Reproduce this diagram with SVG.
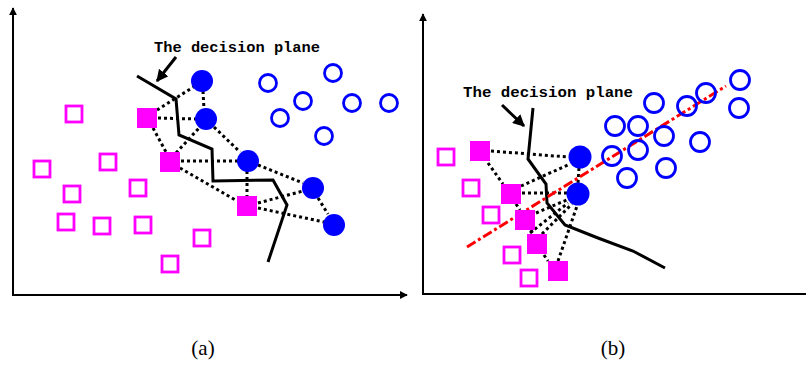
<svg xmlns="http://www.w3.org/2000/svg" width="806" height="365" viewBox="0 0 806 365">
<defs>
<style>
.ax{stroke:#000;stroke-width:2;fill:none}
.dec{stroke:#000;stroke-width:3;fill:none;stroke-linejoin:miter}
.dot{stroke:#000;stroke-width:3;stroke-dasharray:3 3;fill:none}
.osq{fill:#fff;stroke:#ff00ff;stroke-width:2.8}
.fsq{fill:#ff00ff;stroke:none}
.fc{fill:#0000ff;stroke:none}
.oc{fill:none;stroke:#0000ff;stroke-width:2.8}
.red{stroke:#ff0000;stroke-width:3;stroke-dasharray:10 3 3 3;fill:none}
.lbl{font-family:"Liberation Mono","DejaVu Sans Mono",monospace;font-weight:bold;font-size:14px;fill:#000}
.cap{font-family:"Liberation Serif","DejaVu Serif",serif;font-size:21px;fill:#000}
</style>
<marker id="ah" viewBox="0 0 10 10" refX="9" refY="5" markerWidth="8" markerHeight="8" markerUnits="userSpaceOnUse" orient="auto"><path d="M0,0 L10,5 L0,10 z" fill="#000"/></marker>
<marker id="ah2" viewBox="0 0 10 10" refX="9" refY="5" markerWidth="4" markerHeight="4" orient="auto"><path d="M0,0 L10,5 L0,10 z" fill="#000"/></marker>
</defs>

<g id="axes">
<line class="ax" x1="13" y1="295" x2="13" y2="8" marker-end="url(#ah)"/>
<line class="ax" x1="12" y1="295" x2="407" y2="295" marker-end="url(#ah)"/>
<line class="ax" x1="423" y1="294" x2="423" y2="14" marker-end="url(#ah)"/>
<line class="ax" x1="422" y1="294" x2="806" y2="294"/>
</g>

<g id="connectors">
<!-- panel a -->
<line class="dot" x1="157" y1="110" x2="195" y2="86"/>
<line class="dot" x1="158" y1="118" x2="196" y2="119"/>
<line class="dot" x1="203" y1="91" x2="204" y2="109"/>
<line class="dot" x1="153" y1="128" x2="166" y2="152"/>
<line class="dot" x1="176" y1="153" x2="199" y2="128"/>
<line class="dot" x1="181" y1="161" x2="238" y2="161"/>
<line class="dot" x1="214" y1="127" x2="240" y2="152"/>
<line class="dot" x1="180" y1="168" x2="237" y2="201"/>
<line class="dot" x1="247" y1="171" x2="247" y2="196"/>
<line class="dot" x1="258" y1="165" x2="303" y2="183"/>
<line class="dot" x1="258" y1="203" x2="303" y2="191"/>
<line class="dot" x1="258" y1="208" x2="324" y2="222"/>
<line class="dot" x1="318" y1="198" x2="328" y2="214"/>
<!-- panel b -->
<line class="dot" x1="491" y1="151" x2="568" y2="157"/>
<line class="dot" x1="488" y1="163" x2="503" y2="184"/>
<line class="dot" x1="521" y1="186" x2="570" y2="164"/>
<line class="dot" x1="522" y1="193" x2="567" y2="193"/>
<line class="dot" x1="579" y1="168" x2="578" y2="183"/>
<line class="dot" x1="516" y1="204" x2="520" y2="210"/>
<line class="dot" x1="536" y1="213" x2="569" y2="199"/>
<line class="dot" x1="530" y1="233" x2="568" y2="203"/>
<line class="dot" x1="542" y1="234" x2="572" y2="204"/>
<line class="dot" x1="531" y1="230" x2="533" y2="234"/>
<line class="dot" x1="544" y1="255" x2="548" y2="261"/>
<line class="dot" x1="558" y1="261" x2="577" y2="206"/>
</g>

<g id="decision-a">
<polyline class="dec" points="137,76 176,99 179,135 212,149 213,181 273,180 287,205 268,262"/>
</g>
<g id="decision-b">
<polyline class="dec" points="533,108 528,159 546,184 547,203 565,225 598,238 633,251 665,268"/>
</g>
<g id="svm-line">
<line class="red" x1="467" y1="247" x2="726" y2="86"/>
</g>

<g id="label-a">
<text class="lbl" x="154" y="52" textLength="166" lengthAdjust="spacingAndGlyphs">The decision plane</text>
<line x1="176" y1="57" x2="157" y2="81" stroke="#000" stroke-width="3" marker-end="url(#ah2)"/>
</g>
<g id="label-b">
<text class="lbl" x="463" y="97" textLength="170" lengthAdjust="spacingAndGlyphs">The decision plane</text>
<line x1="502" y1="105" x2="524" y2="126" stroke="#000" stroke-width="3" marker-end="url(#ah2)"/>
</g>

<g id="open-squares-a">
<rect class="osq" x="66" y="106" width="16" height="16"/>
<rect class="osq" x="34" y="161" width="16" height="16"/>
<rect class="osq" x="100" y="154" width="16" height="16"/>
<rect class="osq" x="64" y="186" width="16" height="16"/>
<rect class="osq" x="130" y="180" width="16" height="16"/>
<rect class="osq" x="58" y="214" width="16" height="16"/>
<rect class="osq" x="94" y="218" width="16" height="16"/>
<rect class="osq" x="135" y="217" width="16" height="16"/>
<rect class="osq" x="194" y="230" width="16" height="16"/>
<rect class="osq" x="162" y="256" width="16" height="16"/>
</g>
<g id="filled-squares-a">
<rect class="fsq" x="137" y="108" width="20" height="20"/>
<rect class="fsq" x="160" y="152" width="20" height="20"/>
<rect class="fsq" x="237" y="196" width="20" height="20"/>
</g>
<g id="filled-circles-a">
<circle class="fc" cx="202" cy="81" r="11"/>
<circle class="fc" cx="206" cy="119" r="11"/>
<circle class="fc" cx="248" cy="161" r="11"/>
<circle class="fc" cx="313" cy="188" r="11"/>
<circle class="fc" cx="334" cy="225" r="11"/>
</g>
<g id="open-circles-a">
<circle class="oc" cx="268" cy="83" r="8.5"/>
<circle class="oc" cx="333" cy="73" r="8.5"/>
<circle class="oc" cx="303" cy="101" r="8.5"/>
<circle class="oc" cx="280" cy="118" r="8.5"/>
<circle class="oc" cx="352" cy="103" r="8.5"/>
<circle class="oc" cx="389" cy="103" r="8.5"/>
<circle class="oc" cx="324" cy="136" r="8.5"/>
</g>

<g id="open-squares-b">
<rect class="osq" x="438" y="149" width="16" height="16"/>
<rect class="osq" x="463" y="180" width="16" height="16"/>
<rect class="osq" x="483" y="207" width="16" height="16"/>
<rect class="osq" x="504" y="247" width="16" height="16"/>
<rect class="osq" x="521" y="270" width="16" height="16"/>
</g>
<g id="filled-squares-b">
<rect class="fsq" x="470" y="141" width="20" height="20"/>
<rect class="fsq" x="501" y="184" width="20" height="20"/>
<rect class="fsq" x="515" y="210" width="20" height="20"/>
<rect class="fsq" x="527" y="234" width="20" height="20"/>
<rect class="fsq" x="548" y="261" width="20" height="20"/>
</g>
<g id="filled-circles-b">
<circle class="fc" cx="580" cy="157" r="11.5"/>
<circle class="fc" cx="578" cy="194" r="11.5"/>
</g>
<g id="open-circles-b">
<circle class="oc" cx="740" cy="80" r="9.5"/>
<circle class="oc" cx="706" cy="93" r="9.5"/>
<circle class="oc" cx="687" cy="106" r="9.5"/>
<circle class="oc" cx="654" cy="103" r="9.5"/>
<circle class="oc" cx="739" cy="108" r="9.5"/>
<circle class="oc" cx="615" cy="126" r="9.5"/>
<circle class="oc" cx="638" cy="126" r="9.5"/>
<circle class="oc" cx="664" cy="136" r="9.5"/>
<circle class="oc" cx="700" cy="142" r="9.5"/>
<circle class="oc" cx="638" cy="150" r="9.5"/>
<circle class="oc" cx="612" cy="156" r="9.5"/>
<circle class="oc" cx="666" cy="168" r="9.5"/>
<circle class="oc" cx="627" cy="178" r="9.5"/>
</g>

<g id="captions">
<text class="cap" x="203" y="355" text-anchor="middle">(a)</text>
<text class="cap" x="613" y="355" text-anchor="middle">(b)</text>
</g>
</svg>
